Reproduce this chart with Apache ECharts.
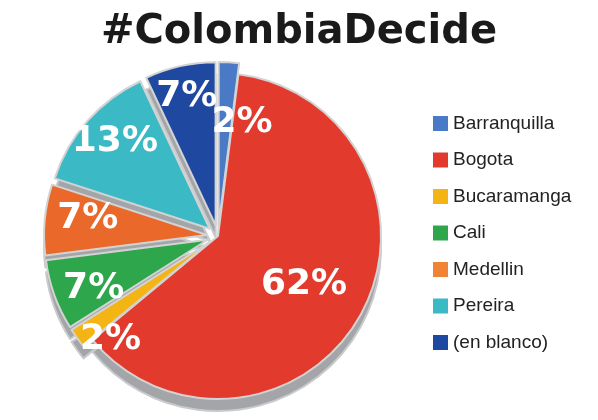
<!DOCTYPE html>
<html>
<head>
<meta charset="utf-8">
<script src="https://cdn.jsdelivr.net/npm/echarts@6/dist/echarts.min.js"></script>
<style>
  html, body { margin: 0; padding: 0; background: #fff; }
  #chart { width: 598px; height: 420px; }
</style>
</head>
<body>
<div id="chart"></div>
<script>
// Share of responses by city
const cities = ['Barranquilla', 'Bogota', 'Bucaramanga', 'Cali', 'Medellin', 'Pereira', '(en blanco)'];
const shares = [2, 62, 2, 7, 7, 13, 7];
const legendColors = ['#4a79c6', '#e23b2e', '#f4b514', '#2ea64b', '#f08334', '#3bb9c5', '#1f48a0'];
const sliceColors  = ['#4a79c6', '#e23b2e', '#f4b514', '#2ea64b', '#e9682a', '#3bb9c5', '#1f48a0'];
const exploded = [true, false, true, true, true, true, true];

const center = [218, 236];
const radius = 163;
const depth = 12;

// nudges so the labels of the thin slices do not collide or run off the disc
const labelNudge = { 0: [15, 29], 1: [12, 8], 2: [8, 20], 3: [10, 4], 4: [12, -4], 5: [4, 0] };

const chart = echarts.init(document.getElementById('chart'));

function items(extra) {
  return cities.map((name, i) => Object.assign({
    name: name,
    value: shares[i],
    selected: exploded[i]
  }, extra(i)));
}

const common = {
  type: 'pie',
  startAngle: 90,
  clockwise: true,
  selectedMode: 'multiple',
  selectedOffset: 11,
  avoidLabelOverlap: false,
  minShowLabelAngle: 0,
  labelLine: { show: false },
  labelLayout: function (p) {
    const n = labelNudge[p.dataIndex] || [0, 0];
    return { dx: n[0], dy: n[1], hideOverlap: false };
  },
  emphasis: { disabled: true },
  animation: false
};

const labelFont = {
  position: 'inside',
  formatter: '{c}%',
  color: '#fff',
  fontFamily: 'DejaVu Sans',
  fontWeight: 'bold',
  fontSize: 36,
  overflow: 'none'
};

chart.setOption({
  title: {
    text: '#ColombiaDecide',
    left: 'center',
    top: 8,
    textStyle: {
      fontFamily: 'DejaVu Sans',
      fontWeight: 'bold',
      fontSize: 40,
      color: '#1a1a1a'
    }
  },
  legend: {
    orient: 'vertical',
    left: 428,
    top: 109,
    itemWidth: 15,
    itemHeight: 15,
    itemGap: 17.5,
    icon: 'rect',
    itemStyle: { borderWidth: 0 },
    data: cities.map((c, i) => ({ name: c, itemStyle: { color: legendColors[i], borderWidth: 0 } })),
    selectedMode: false,
    textStyle: { fontFamily: 'Liberation Sans', fontSize: 19, color: '#222' }
  },
  series: [
    // grey side wall of the disc
    Object.assign({}, common, {
      name: 'side',
      silent: true,
      center: [center[0], center[1] + depth],
      radius: [0, radius],
      label: { show: false },
      legendHoverLink: false,
      data: items(() => ({
        itemStyle: { color: '#a3a5a8', borderColor: '#c9cacc', borderWidth: 2 }
      })),
      z: 1
    }),
    // top faces
    Object.assign({}, common, {
      name: 'share',
      center: center,
      radius: [0, radius],
      data: items(i => ({
        itemStyle: { color: sliceColors[i], borderColor: '#d3d3d3', borderWidth: 2 },
        label: { show: i === 1 }
      })),
      label: labelFont,
      z: 2
    }),
    // labels of the outer slices, placed further from the centre
    Object.assign({}, common, {
      name: 'labels',
      silent: true,
      center: center,
      radius: [radius * 0.58, radius],
      legendHoverLink: false,
      data: items(i => ({
        itemStyle: { color: 'rgba(0,0,0,0)', borderWidth: 0 },
        label: { show: i !== 1 }
      })),
      label: labelFont,
      z: 3
    })
  ]
});
</script>
</body>
</html>
